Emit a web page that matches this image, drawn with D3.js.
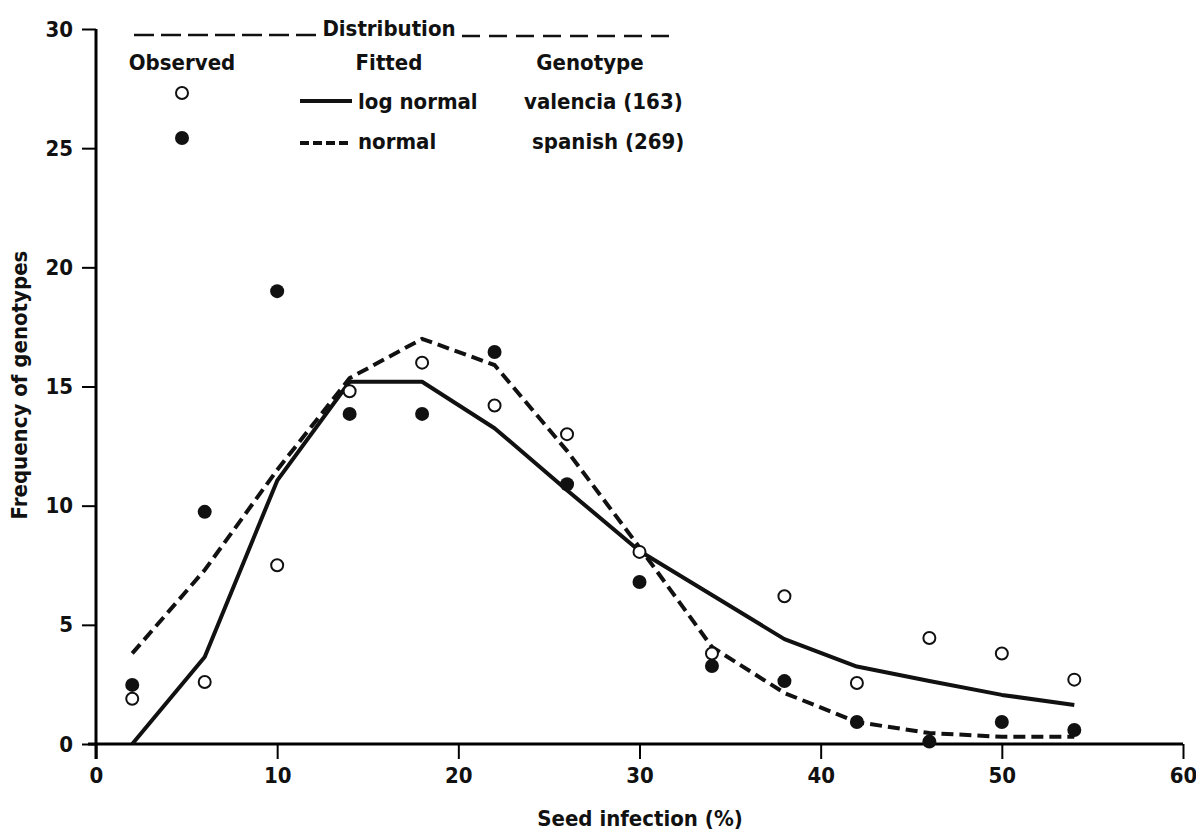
<!DOCTYPE html>
<html>
<head>
<meta charset="utf-8">
<script src="https://cdn.jsdelivr.net/npm/d3@7/dist/d3.min.js"></script>
<style>
  html, body { margin: 0; padding: 0; background: #fff; }
  svg { display: block; }
  text { font-family: "DejaVu Sans Condensed", "Liberation Sans Narrow", "DejaVu Sans", sans-serif; font-weight: bold; fill: #111; }
</style>
</head>
<body>
<script>
// seed infection classes (%)
var seedInfection = [2, 6, 10, 14, 18, 22, 26, 30, 34, 38, 42, 46, 50, 54];

// observed frequencies
var valenciaObserved = [1.9, 2.6, 7.5, 14.8, 16.0, 14.2, 13.0, 8.06, 3.8, 6.2, 2.56, 4.45, 3.8, 2.7];
var spanishObserved  = [2.48, 9.74, 19.0, 13.85, 13.85, 16.45, 10.9, 6.8, 3.27, 2.64, 0.92, 0.1, 0.92, 0.59];

// fitted distributions
var logNormalFit = [0, 3.65, 11.05, 15.2, 15.2, 13.25, 10.65, 8.1, 6.25, 4.4, 3.25, 2.64, 2.06, 1.64];
var normalFit    = [3.8, 7.3, 11.5, 15.35, 17.0, 15.9, 12.3, 8.25, 4.07, 2.14, 0.92, 0.46, 0.3, 0.3];

var xTicks = [0, 10, 20, 30, 40, 50, 60];
var yTicks = [0, 5, 10, 15, 20, 25, 30];

var width = 1196, height = 834;

var x = d3.scaleLinear().domain([0, 60]).range([96, 1183]);
var y = d3.scaleLinear().domain([0, 30]).range([744, 29]);

var svg = d3.select('body').append('svg')
    .attr('width', width)
    .attr('height', height);

// axes
var xAxis = svg.append('g')
    .attr('transform', 'translate(0,' + y(0) + ')')
    .call(d3.axisBottom(x).tickValues(xTicks).tickSize(15).tickSizeOuter(0).tickPadding(8));
xAxis.select('.domain').attr('stroke-width', 3).attr('d', 'M88,0H' + x(60));
xAxis.selectAll('.tick line').attr('stroke-width', 2);
xAxis.selectAll('.tick text').attr('font-size', 22).attr('fill', '#111');

var yAxis = svg.append('g')
    .attr('transform', 'translate(' + x(0) + ',0)')
    .call(d3.axisLeft(y).tickValues(yTicks).tickSize(14).tickSizeOuter(0).tickPadding(9));
yAxis.select('.domain').attr('stroke-width', 3).attr('d', 'M0,' + y(30) + 'V' + (y(0) + 15));
yAxis.selectAll('.tick line').attr('stroke-width', 2);
yAxis.selectAll('.tick text').attr('font-size', 22).attr('fill', '#111');

// axis titles
svg.append('text')
    .attr('x', 640).attr('y', 826)
    .attr('text-anchor', 'middle')
    .attr('font-size', 22)
    .text('Seed infection (%)');

svg.append('text')
    .attr('transform', 'translate(27,385) rotate(-90)')
    .attr('text-anchor', 'middle')
    .attr('font-size', 22)
    .text('Frequency of genotypes');

// fitted curves
var line = d3.line()
    .x(function(d) { return x(d[0]); })
    .y(function(d) { return y(d[1]); });

svg.append('path')
    .datum(d3.zip(seedInfection, logNormalFit))
    .attr('d', line)
    .attr('fill', 'none')
    .attr('stroke', '#111')
    .attr('stroke-width', 4)
    .attr('stroke-linejoin', 'round');

svg.append('path')
    .datum(d3.zip(seedInfection, normalFit))
    .attr('d', line)
    .attr('fill', 'none')
    .attr('stroke', '#111')
    .attr('stroke-width', 4)
    .attr('stroke-dasharray', '12,6');

// observed points
svg.append('g').selectAll('circle')
    .data(d3.zip(seedInfection, spanishObserved))
    .enter().append('circle')
      .attr('cx', function(d) { return x(d[0]); })
      .attr('cy', function(d) { return y(d[1]); })
      .attr('r', 7)
      .attr('fill', '#111');

svg.append('g').selectAll('circle')
    .data(d3.zip(seedInfection, valenciaObserved))
    .enter().append('circle')
      .attr('cx', function(d) { return x(d[0]); })
      .attr('cy', function(d) { return y(d[1]); })
      .attr('r', 6)
      .attr('fill', '#fff')
      .attr('stroke', '#111')
      .attr('stroke-width', 2);

// legend
var legend = svg.append('g');

legend.append('line')
    .attr('x1', 134).attr('x2', 318).attr('y1', 35).attr('y2', 35)
    .attr('stroke', '#111').attr('stroke-width', 2.5).attr('stroke-dasharray', '20,7');
legend.append('line')
    .attr('x1', 462).attr('x2', 672).attr('y1', 36).attr('y2', 36)
    .attr('stroke', '#111').attr('stroke-width', 2.5).attr('stroke-dasharray', '18,9');
legend.append('text')
    .attr('x', 389).attr('y', 36)
    .attr('text-anchor', 'middle').attr('font-size', 22)
    .text('Distribution');

var headers = [['Observed', 182], ['Fitted', 389], ['Genotype', 590]];
legend.selectAll('text.header')
    .data(headers)
    .enter().append('text')
      .attr('class', 'header')
      .attr('x', function(d) { return d[1]; })
      .attr('y', 70)
      .attr('text-anchor', 'middle')
      .attr('font-size', 22)
      .text(function(d) { return d[0]; });

legend.append('circle')
    .attr('cx', 182).attr('cy', 93).attr('r', 6)
    .attr('fill', '#fff').attr('stroke', '#111').attr('stroke-width', 2);
legend.append('circle')
    .attr('cx', 182).attr('cy', 138).attr('r', 7)
    .attr('fill', '#111');

legend.append('line')
    .attr('x1', 300).attr('x2', 352).attr('y1', 101).attr('y2', 101)
    .attr('stroke', '#111').attr('stroke-width', 4);
legend.append('line')
    .attr('x1', 300).attr('x2', 352).attr('y1', 143).attr('y2', 143)
    .attr('stroke', '#111').attr('stroke-width', 4).attr('stroke-dasharray', '9,4');

legend.append('text').attr('x', 358).attr('y', 109).attr('font-size', 22).text('log normal');
legend.append('text').attr('x', 358).attr('y', 149).attr('font-size', 22).text('normal');
legend.append('text').attr('x', 524).attr('y', 109).attr('font-size', 22).text('valencia (163)');
legend.append('text').attr('x', 532).attr('y', 149).attr('font-size', 22).text('spanish (269)');
</script>
</body>
</html>
